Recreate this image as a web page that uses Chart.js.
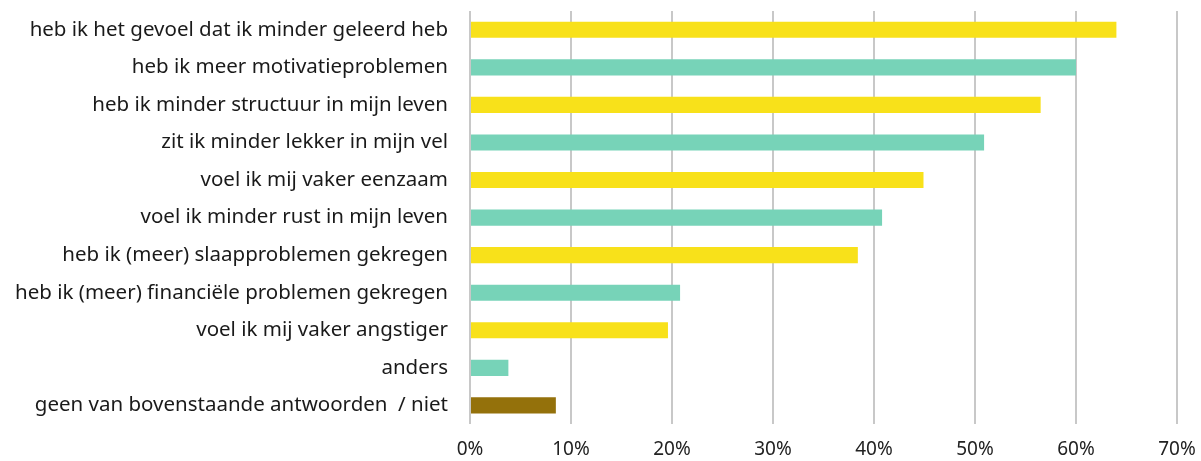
<!DOCTYPE html>
<html>
<head>
<meta charset="utf-8">
<script src="https://cdn.jsdelivr.net/npm/chart.js@4"></script>
<style>
  html, body { margin: 0; padding: 0; background: #fff; }
  #wrap { width: 1201px; height: 461px; position: relative; }
</style>
</head>
<body>
<div id="wrap"><canvas id="chart"></canvas></div>
<script>
/* ─── Data ───────────────────────────────────────────────── */
const categories = [
  'heb ik het gevoel dat ik minder geleerd heb',
  'heb ik meer motivatieproblemen',
  'heb ik minder structuur in mijn leven',
  'zit ik minder lekker in mijn vel',
  'voel ik mij vaker eenzaam',
  'voel ik minder rust in mijn leven',
  'heb ik (meer) slaapproblemen gekregen',
  'heb ik (meer) financiële problemen gekregen',
  'voel ik mij vaker angstiger',
  'anders',
  'geen van bovenstaande antwoorden  / niet'
];
const values = [64.0, 60.0, 56.5, 50.9, 44.9, 40.8, 38.4, 20.8, 19.6, 3.8, 8.5];
const barColors = [
  '#f8e11a', '#77d3b8', '#f8e11a', '#77d3b8', '#f8e11a', '#77d3b8',
  '#f8e11a', '#77d3b8', '#f8e11a', '#77d3b8', '#94710b'
];
const xTicks = [0, 10, 20, 30, 40, 50, 60, 70];

/* ─── Chart ──────────────────────────────────────────────── */
const FONT = "'Noto Sans', sans-serif";
new Chart(document.getElementById('chart'), {
  type: 'bar',
  data: {
    labels: categories,
    datasets: [{
      data: values,
      backgroundColor: barColors,
      borderWidth: 0,
      barPercentage: 0.43,
      categoryPercentage: 1.0
    }]
  },
  options: {
    indexAxis: 'y',
    responsive: true,
    maintainAspectRatio: false,
    animation: false,
    layout: { padding: { top: 11, right: 24, bottom: -14, left: 0 } },
    plugins: { legend: { display: false }, tooltip: { enabled: false } },
    scales: {
      x: {
        min: 0,
        max: 70,
        afterBuildTicks: axis => { axis.ticks = xTicks.map(v => ({ value: v })); },
        afterFit: axis => { axis.paddingLeft = 0; axis.paddingRight = 0; },
        grid: { color: '#c8c8c8', lineWidth: 2, drawTicks: false },
        border: { display: false },
        ticks: {
          color: '#222',
          padding: 14,
          font: { family: FONT, size: 19 },
          callback: v => v + '%'
        }
      },
      y: {
        grid: { display: false },
        border: { display: false },
        afterFit: axis => { axis.width = 470; axis.paddingTop = 0; axis.paddingBottom = 0; },
        ticks: {
          color: '#1a1a1a',
          padding: 14,
          font: { family: FONT, size: 20.5 }
        }
      }
    }
  }
});
</script>
</body>
</html>
